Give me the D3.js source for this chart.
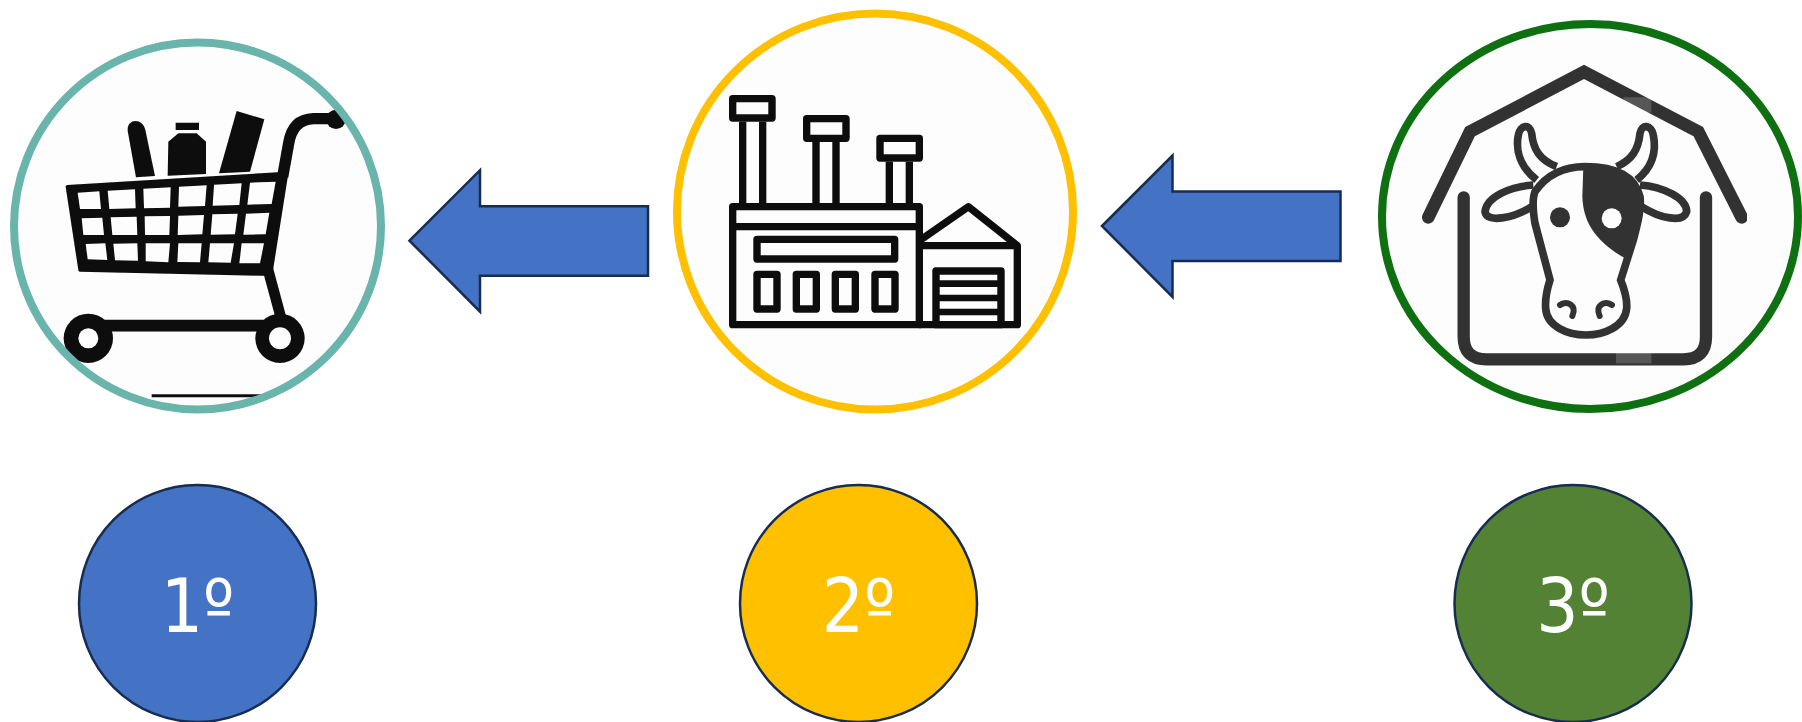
<!DOCTYPE html>
<html>
<head>
<meta charset="utf-8">
<title>Cadeia</title>
<script src="https://cdn.jsdelivr.net/npm/d3@7"></script>
<style>
  html, body { margin: 0; padding: 0; background: #fff; }
  svg { display: block; }
</style>
</head>
<body>
<div id="chart"></div>
<script>
// what the picture says
var stepLabels = ["1º", "2º", "3º"];
var stepIcons = ["cart", "factory", "cow"];
var badgeColors = ["#4472C4", "#FFC000", "#548235"];
var ringColors = ["#69B4AB", "#FFC000", "#0F7011"];
var arrowSteps = ["2º", "3º"];

var width = 1802, height = 722;
var outline = "#172C51";
var iconBg = "#fdfdfd";

// page layout, one scale per thing
var badgeX = d3.scaleOrdinal(stepLabels, [197.5, 858.5, 1573]);
var ringX = d3.scaleOrdinal(stepLabels, [197.5, 875, 1590]);
var ringY = d3.scaleOrdinal(stepLabels, [226, 211.5, 216.5]);
var ringRx = d3.scaleOrdinal(stepLabels, [183.5, 198, 208]);
var ringRy = d3.scaleOrdinal(stepLabels, [183.5, 198, 192.5]);
var arrowTip = d3.scaleOrdinal(arrowSteps, [[409.5, 240.7], [1102, 226]]);
var badgeY = 603.5, badgeR = 118.5;

var svg = d3.select("#chart").append("svg")
  .attr("width", width)
  .attr("height", height)
  .attr("viewBox", [0, 0, width, height]);

// the icons are blurry scans in the original
svg.append("filter").attr("id", "soft")
  .append("feGaussianBlur").attr("stdDeviation", 1.5);

function ringShapes(cls) {
  return svg.selectAll("ellipse." + cls)
    .data(stepLabels)
    .join("ellipse")
    .attr("class", cls)
    .attr("cx", function (d) { return ringX(d); })
    .attr("cy", function (d) { return ringY(d); })
    .attr("rx", function (d) { return ringRx(d); })
    .attr("ry", function (d) { return ringRy(d); });
}

// ring backgrounds go under the icons, the ring lines on top
ringShapes("ringBg").attr("fill", iconBg);

// icons are traced at 3x, so each group is scaled down by a third
function iconGroup(x, y) {
  return svg.append("g")
    .attr("transform", "translate(" + x + "," + y + ") scale(" + (1 / 3) + ")")
    .attr("filter", "url(#soft)");
}
function poly(g, pts, fill) {
  g.append("polygon").attr("points", pts.join(" ")).attr("fill", fill);
}
function line(g, d, w, color, cap, join) {
  g.append("path").attr("d", d).attr("fill", "none")
    .attr("stroke", color).attr("stroke-width", w)
    .attr("stroke-linecap", cap || "butt").attr("stroke-linejoin", join || "round");
}
function box(g, x0, x1, y0, y1, w, color) {
  g.append("rect").attr("x", x0).attr("y", y0).attr("width", x1 - x0).attr("height", y1 - y0)
    .attr("fill", "none").attr("stroke", color).attr("stroke-width", w).attr("stroke-linejoin", "round");
}

function drawCart() {
  svg.append("clipPath").attr("id", "cartClip").append("circle")
    .attr("cx", 592).attr("cy", 590).attr("r", 552);
  var g = iconGroup(0, 30).append("g").attr("clip-path", "url(#cartClip)");
  var k = "#0a0a0a";
  // goods
  g.append("path").attr("fill", k)
    .attr("d", "M383,302 C380,265 428,262 436,300 L465,438 L408,442 Z");
  poly(g, ["527,278", "597,278", "597,300", "527,300"], k);
  poly(g, ["505,335", "535,310", "590,310", "618,335", "618,432", "503,437"], k);
  poly(g, ["710,243", "793,268", "750,425", "657,430"], k);
  // basket
  g.append("path").attr("fill", k).attr("stroke", k).attr("stroke-width", 10).attr("stroke-linejoin", "round")
    .attr("d", "M202,470 L860,430 L812,733 L240,720 Z");
  var cells = [
    ["233,488", "298,484", "303,537", "240,537"], ["323,482", "405,478", "407,535", "328,537"],
    ["430,476", "512,472", "510,533", "432,535"], ["537,470", "620,466", "615,528", "535,530"],
    ["642,464", "725,460", "718,525", "638,527"], ["750,458", "827,455", "815,522", "742,524"],
    ["245,565", "307,563", "312,615", "250,615"], ["332,562", "410,560", "412,615", "337,615"],
    ["434,559", "510,558", "508,615", "435,615"], ["535,557", "612,555", "607,613", "533,615"],
    ["637,553", "713,551", "705,613", "632,614"], ["738,551", "808,548", "797,613", "730,614"],
    ["257,642", "316,640", "322,690", "263,688"], ["340,641", "412,640", "414,692", "345,691"],
    ["437,640", "510,640", "505,697", "437,694"], ["535,640", "605,640", "600,697", "532,696"],
    ["630,640", "702,640", "692,698", "625,697"], ["725,640", "792,640", "780,700", "718,700"]
  ];
  cells.forEach(function (c) { poly(g, c, iconBg); });
  // handle, leg, axle
  line(g, "M848,440 L866,340 Q878,268 940,266 L1010,266", 34, k);
  g.append("circle").attr("cx", 1008).attr("cy", 268).attr("r", 29).attr("fill", k);
  line(g, "M803,715 L842,860", 32, k);
  line(g, "M300,887 L800,887", 35, k);
  [[265, 925, 30], [840, 925, 33]].forEach(function (w) {
    g.append("circle").attr("cx", w[0]).attr("cy", w[1]).attr("r", 74).attr("fill", k);
    g.append("circle").attr("cx", w[0]).attr("cy", w[1]).attr("r", w[2]).attr("fill", iconBg);
  });
  line(g, "M455,1097 L790,1097", 9, k);
}

function drawFactory() {
  var g = iconGroup(660, 0);
  var k = "#0a0a0a", w = 22;
  box(g, 218, 336, 296, 354, w, k);
  box(g, 440, 558, 356, 415, w, k);
  box(g, 660, 778, 415, 474, w, k);
  [[248, 308, 365], [468, 528, 425], [688, 748, 485]].forEach(function (c) {
    line(g, "M" + c[0] + "," + c[2] + " L" + c[0] + ",610", w, k);
    line(g, "M" + c[1] + "," + c[2] + " L" + c[1] + ",610", w, k);
  });
  box(g, 218, 778, 620, 974, w, k);
  line(g, "M218,680 L778,680", w, k);
  box(g, 291, 704, 718, 777, w, k);
  [291, 409, 526, 645].forEach(function (x) { box(g, x, x + 60, 823, 927, w, k); });
  line(g, "M778,722 L925,620 L1072,737 L1072,974 L778,974", w, k);
  line(g, "M778,737 L1072,737", w, k);
  box(g, 828, 1023, 813, 974, w, k);
  [851, 894, 936].forEach(function (y) { line(g, "M828," + y + " L1023," + y, 20, k); });
}

function drawCow() {
  // the scan stops just past the roof's right end
  svg.append("clipPath").attr("id", "cowClip").append("rect")
    .attr("x", 100).attr("y", 100).attr("width", 1031).attr("height", 1000);
  var g = iconGroup(1370, 10).append("g").attr("clip-path", "url(#cowClip)");
  var k = "#333333", bg = iconBg;
  line(g, "M175,622 L300,365 L642,186 L985,365 L1115,622", 38, k, "round", "miter");
  line(g, "M281,562 L281,980 Q281,1048 350,1048 L940,1048 Q1008,1048 1008,980 L1008,562", 37, k, "round");
  // horns and ears sit behind the head
  var parts = [
    "M500,510 C450,470 436,420 445,375 C450,345 480,340 485,370 C490,420 510,450 560,470",
    "M800,510 C850,470 859,420 850,375 C845,345 815,340 810,370 C805,420 785,450 740,470",
    "M490,525 C420,530 350,560 345,605 C350,640 430,625 485,590",
    "M810,525 C880,530 950,565 950,605 C940,640 870,625 815,590"
  ];
  parts.forEach(function (d) {
    g.append("path").attr("d", d).attr("fill", bg).attr("stroke", k).attr("stroke-width", 23);
  });
  g.append("path").attr("fill", bg).attr("stroke", k).attr("stroke-width", 23)
    .attr("d", "M495,545 C540,480 600,470 645,470 C700,470 790,480 810,560 C815,600 800,650 790,690 L752,810 C762,835 772,870 770,895 C765,950 700,975 648,975 C595,975 530,950 527,895 C525,870 532,835 540,810 L495,640 C490,610 485,570 495,545 Z");
  g.append("path").attr("fill", k)
    .attr("d", "M640,470 C700,465 790,490 812,560 C818,610 795,680 765,745 C690,700 640,650 637,560 Z");
  g.append("circle").attr("cx", 570).attr("cy", 622).attr("r", 30).attr("fill", k);
  g.append("circle").attr("cx", 725).attr("cy", 625).attr("r", 30).attr("fill", bg);
  line(g, "M570,885 C590,870 622,885 607,918", 18, k, "round");
  line(g, "M726,885 C706,870 674,885 689,918", 18, k, "round");
  // washed out stock photo marks on the roof and the pen
  g.append("rect").attr("x", 760).attr("y", 262).attr("width", 84).attr("height", 46).attr("fill", "#fff").attr("opacity", 0.18);
  g.append("rect").attr("x", 738).attr("y", 1028).attr("width", 106).attr("height", 32).attr("fill", "#fff").attr("opacity", 0.18);
}

var iconDrawers = { cart: drawCart, factory: drawFactory, cow: drawCow };
stepIcons.forEach(function (name) { iconDrawers[name](); });

ringShapes("ringLine")
  .attr("fill", "none")
  .attr("stroke", function (d, i) { return ringColors[i]; })
  .attr("stroke-width", 8);

// arrows, drawn relative to their tip
var arrowLine = d3.line();
svg.selectAll("path.arrow")
  .data(arrowSteps)
  .join("path")
  .attr("class", "arrow")
  .attr("d", function (d) {
    var t = arrowTip(d);
    return arrowLine([
      [t[0], t[1]], [t[0] + 70.5, t[1] - 70.5], [t[0] + 70.5, t[1] - 34.5], [t[0] + 238.5, t[1] - 34.5],
      [t[0] + 238.5, t[1] + 35], [t[0] + 70.5, t[1] + 35], [t[0] + 70.5, t[1] + 71]
    ]) + "Z";
  })
  .attr("fill", "#4472C4")
  .attr("stroke", outline)
  .attr("stroke-width", 2.5);

// numbered badges
svg.selectAll("circle.badge")
  .data(stepLabels)
  .join("circle")
  .attr("class", "badge")
  .attr("cx", function (d) { return badgeX(d); })
  .attr("cy", badgeY)
  .attr("r", badgeR)
  .attr("fill", function (d, i) { return badgeColors[i]; })
  .attr("stroke", outline)
  .attr("stroke-width", 2.5);

svg.selectAll("text.label")
  .data(stepLabels)
  .join("text")
  .attr("class", "label")
  .attr("x", function (d) { return badgeX(d); })
  .attr("y", 632)
  .attr("text-anchor", "middle")
  .attr("fill", "#ffffff")
  .attr("font-family", "'DejaVu Sans', sans-serif")
  .style("font-stretch", "condensed")
  .attr("font-size", 74)
  .text(function (d) { return d; });
</script>
</body>
</html>
